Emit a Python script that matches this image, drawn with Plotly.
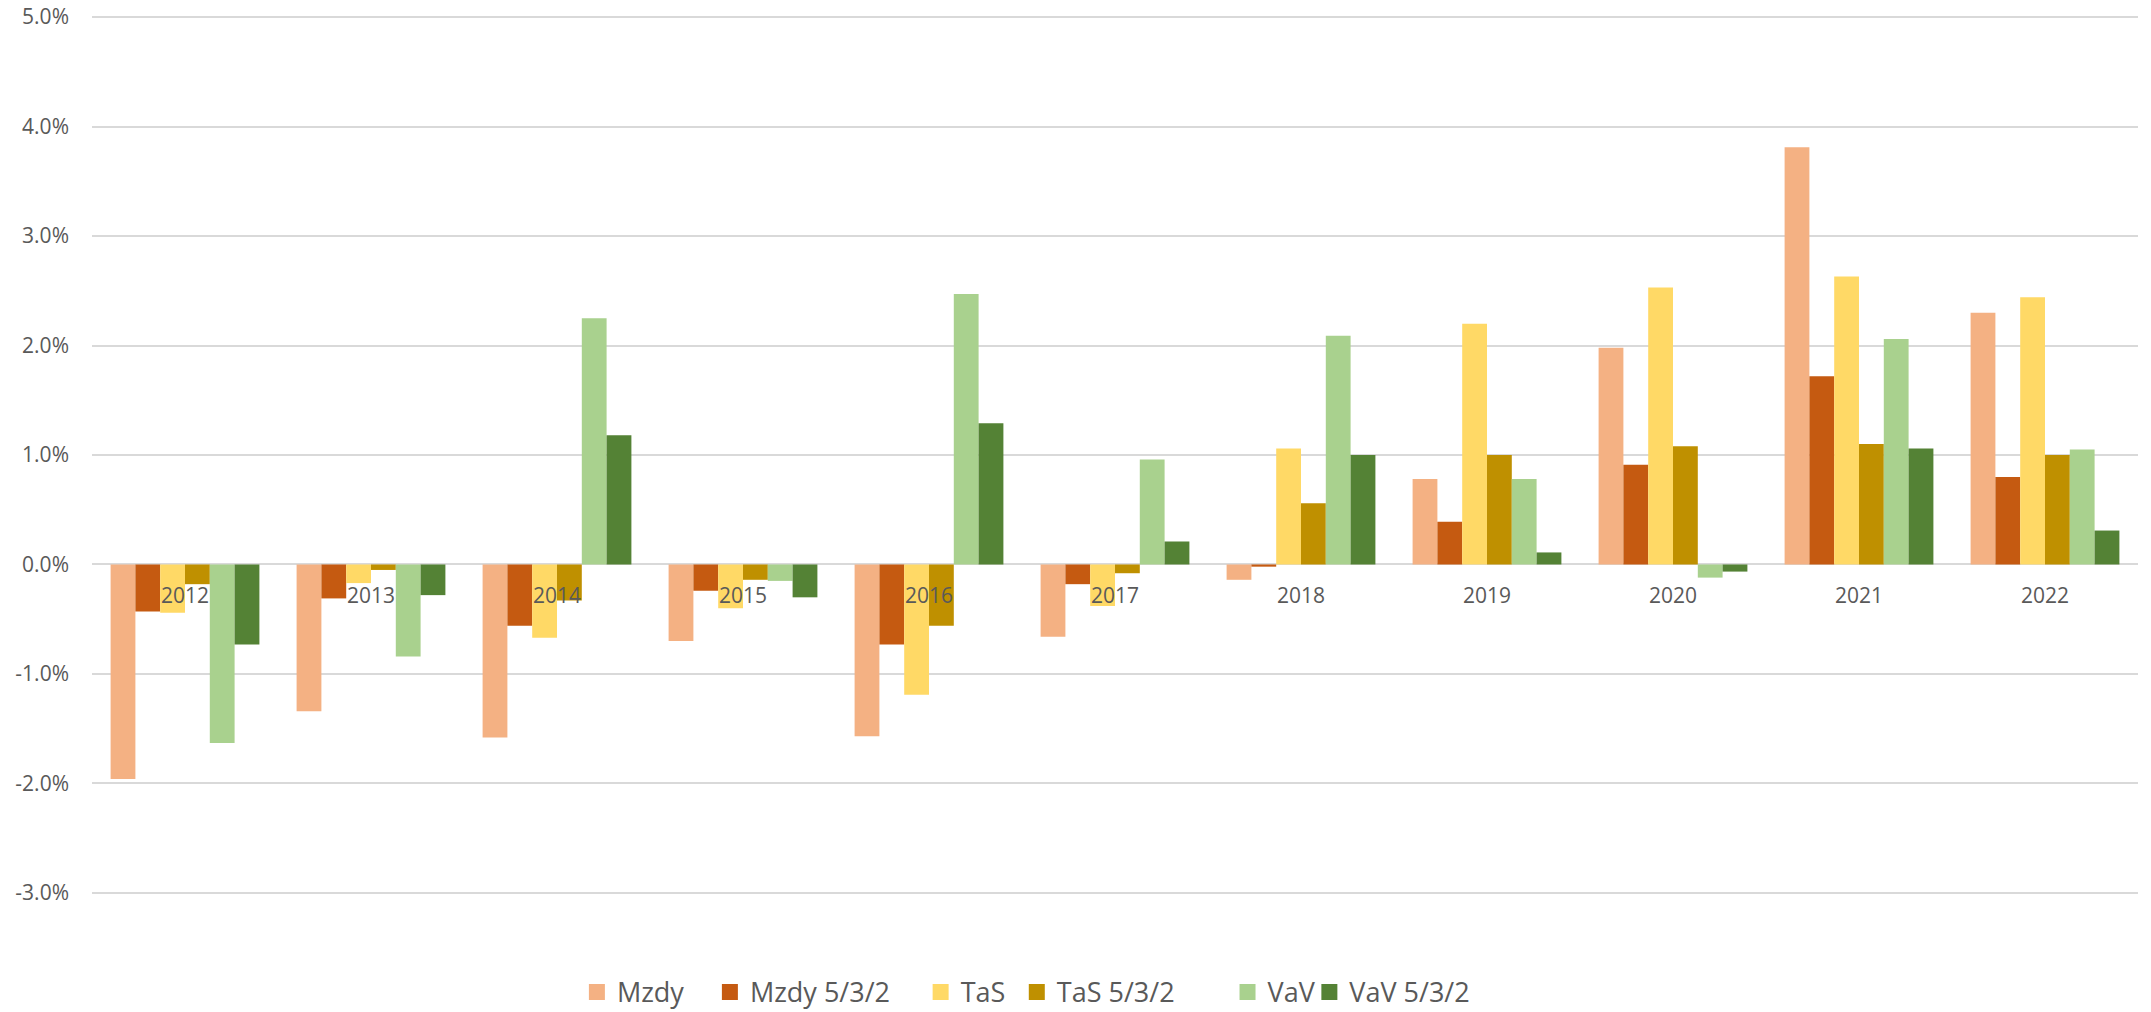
import plotly.graph_objects as go

years = ["2012", "2013", "2014", "2015", "2016", "2017", "2018", "2019", "2020", "2021", "2022"]

mzdy =      [-1.96, -1.34, -1.58, -0.70, -1.57, -0.66, -0.14, 0.78, 1.98, 3.81, 2.30]
mzdy_532 =  [-0.43, -0.31, -0.56, -0.24, -0.73, -0.18, -0.02, 0.39, 0.91, 1.72, 0.80]
tas =       [-0.44, -0.17, -0.67, -0.40, -1.19, -0.38, 1.06, 2.20, 2.53, 2.63, 2.44]
tas_532 =   [-0.18, -0.05, -0.33, -0.14, -0.56, -0.08, 0.56, 1.00, 1.08, 1.10, 1.00]
vav =       [-1.63, -0.84, 2.25, -0.15, 2.47, 0.96, 2.09, 0.78, -0.12, 2.06, 1.05]
vav_532 =   [-0.73, -0.28, 1.18, -0.30, 1.29, 0.21, 1.00, 0.11, -0.065, 1.06, 0.31]

series_names = ["Mzdy", "Mzdy 5/3/2", "TaS", "TaS 5/3/2", "VaV", "VaV 5/3/2"]
series_values = [mzdy, mzdy_532, tas, tas_532, vav, vav_532]
colors = ["#F4B183", "#C55A11", "#FFD966", "#BF9000", "#A9D18E", "#548235"]

y_ticks = [-3, -2, -1, 0, 1, 2, 3, 4, 5]
y_tick_labels = ["-3.0%", "-2.0%", "-1.0%", "0.0%", "1.0%", "2.0%", "3.0%", "4.0%", "5.0%"]

# horizontal placement of each legend entry (paper coordinates)
legend_x = [0.237, 0.302, 0.405, 0.452, 0.555, 0.595]

FONT = "Open Sans, Segoe UI, sans-serif"
GREY = "#595959"

# the page body adds an 8px margin; size the figure to fit the window
W, H = 2143, 1004

fig = go.Figure()
for name, vals, col in zip(series_names, series_values, colors):
    fig.add_trace(go.Bar(x=years, y=vals, name=name, marker_color=col,
                         marker_line_width=0, showlegend=False, legendgroup=name))

legend_layout = {}
for k, (name, col, lx) in enumerate(zip(series_names, colors, legend_x)):
    lname = "legend" if k == 0 else f"legend{k + 1}"
    fig.add_trace(go.Scatter(x=[None], y=[None], mode="markers", name=name,
                             legendgroup=name, legend=lname,
                             marker=dict(symbol="square", size=18, color=col)))
    legend_layout[lname] = dict(orientation="h", x=lx, xanchor="left",
                                y=-0.112, yanchor="middle",
                                font=dict(family=FONT, size=27, color=GREY),
                                itemwidth=30, itemsizing="trace",
                                bgcolor="rgba(0,0,0,0)")

for i, yr in enumerate(years):
    fig.add_annotation(x=i, y=0, xref="x", yref="y", text=yr, showarrow=False,
                       yanchor="middle", yshift=-31,
                       font=dict(family=FONT, size=21, color=GREY))

fig.update_layout(
    width=W, height=H,
    margin=dict(l=84, r=13, t=8, b=118, autoexpand=False),
    paper_bgcolor="white", plot_bgcolor="white",
    barmode="group", bargap=0.2, bargroupgap=0,
    font=dict(family=FONT, color=GREY),
    showlegend=True,
    **legend_layout,
)
fig.update_xaxes(type="category", range=[-0.5, len(years) - 0.5], showticklabels=False,
                 showgrid=False, zeroline=False, showline=False, automargin=False)
fig.update_yaxes(range=[-3.01, 5.01], tickvals=y_ticks, ticktext=y_tick_labels,
                 showgrid=True, gridcolor="#D9D9D9", gridwidth=1.5,
                 zeroline=True, zerolinecolor="#D9D9D9", zerolinewidth=1.5,
                 showline=False, ticks="", ticklabelstandoff=22, automargin=False,
                 ticklabeloverflow="allow",
                 tickfont=dict(family=FONT, size=21, color=GREY))

fig.write_html("out.html")
